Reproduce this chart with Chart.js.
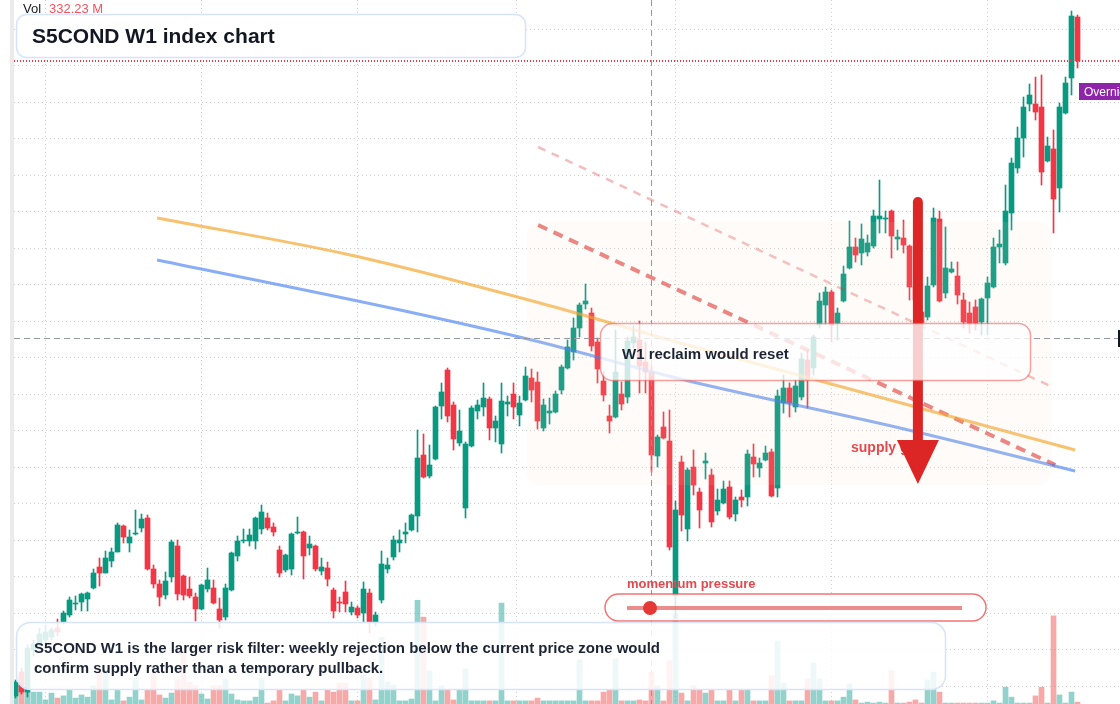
<!DOCTYPE html>
<html>
<head>
<meta charset="utf-8">
<title>S5COND W1 index chart</title>
<script src="https://cdn.jsdelivr.net/npm/chart.js@4.4.1/dist/chart.umd.min.js"></script>
<style>
  html, body { margin: 0; padding: 0; background: #ffffff; overflow: hidden; }
  #chart { display: block; width: 1120px; height: 704px; }
</style>
</head>
<body>
<canvas id="chart" width="1120" height="704"></canvas>
<script>
// weekly candles, oldest first
const opens = [
  608, 656, 616, 700, 708, 720, 726, 744, 756, 770,
  792, 796, 802, 824, 866, 854, 878, 896, 948, 914,
  932, 944, 964, 862, 832, 810, 846, 908, 848, 822,
  806, 782, 822, 824, 782, 766, 820, 888, 918, 918,
  918, 942, 964, 946, 900, 860, 862, 934, 936, 904,
  908, 858, 864, 820, 796, 816, 776, 784, 774, 814,
  756, 800, 862, 886, 914, 932, 940, 968, 1090, 1048,
  1082, 1188, 1260, 1190, 1114, 984, 1108, 1178, 1186, 1202,
  1144, 1112, 1192, 1212, 1170, 1200, 1244, 1236, 1144, 1174,
  1176, 1220, 1264, 1296, 1344, 1392, 1374, 1316, 1238, 1168,
  1166, 1212, 1206, 1314, 1320, 1276, 1256, 1088, 1146, 1118,
  808, 1076, 942, 1066, 1016, 1074, 1050, 978, 994, 1026,
  972, 1006, 1006, 1086, 1064, 1080, 1096, 1024, 1194, 1224,
  1186, 1206, 1280, 1264, 1350, 1390, 1416, 1354, 1398, 1464,
  1506, 1494, 1496, 1508, 1562, 1562, 1578, 1522, 1524, 1508,
  1426, 1376, 1366, 1430, 1562, 1414, 1456, 1448, 1400, 1374,
  1386, 1356, 1404, 1426, 1506, 1474, 1574, 1664, 1724, 1792,
  1792, 1786, 1678, 1702, 1624, 1774, 1844, 1966
];
const highs = [
  640, 664, 710, 720, 744, 750, 744, 762, 778, 806,
  808, 814, 816, 862, 884, 898, 904, 954, 950, 940,
  980, 972, 970, 870, 840, 856, 920, 920, 850, 846,
  814, 832, 864, 840, 804, 832, 896, 928, 942, 942,
  966, 990, 974, 954, 908, 892, 934, 966, 938, 928,
  910, 884, 876, 824, 806, 838, 796, 788, 836, 822,
  776, 898, 884, 928, 940, 954, 972, 1140, 1132, 1110,
  1188, 1234, 1264, 1196, 1180, 1116, 1188, 1200, 1234, 1206,
  1168, 1234, 1208, 1234, 1208, 1266, 1262, 1256, 1202, 1204,
  1218, 1270, 1320, 1364, 1394, 1432, 1384, 1324, 1256, 1190,
  1340, 1236, 1326, 1348, 1358, 1316, 1268, 1130, 1176, 1180,
  998, 1088, 1064, 1100, 1024, 1094, 1062, 1022, 1038, 1038,
  1006, 1020, 1100, 1112, 1084, 1108, 1102, 1220, 1250, 1234,
  1240, 1294, 1300, 1330, 1414, 1426, 1420, 1384, 1468, 1558,
  1524, 1552, 1530, 1580, 1640, 1578, 1580, 1540, 1560, 1510,
  1440, 1390, 1446, 1584, 1578, 1546, 1476, 1476, 1414, 1396,
  1400, 1404, 1446, 1524, 1540, 1630, 1684, 1746, 1806, 1832,
  1846, 1850, 1726, 1740, 1794, 1846, 1978, 1970
];
const lows = [
  604, 612, 606, 688, 700, 710, 720, 728, 752, 766,
  780, 778, 778, 822, 828, 854, 866, 896, 914, 896,
  930, 936, 860, 824, 788, 802, 836, 800, 800, 804,
  758, 780, 816, 792, 744, 760, 818, 878, 914, 908,
  902, 932, 940, 928, 846, 856, 850, 932, 842, 890,
  858, 850, 828, 764, 776, 776, 770, 764, 756, 734,
  748, 794, 854, 880, 896, 914, 938, 936, 1044, 1044,
  1080, 1162, 1156, 1100, 1108, 964, 1106, 1162, 1168, 1120,
  1116, 1094, 1168, 1162, 1148, 1198, 1196, 1142, 1138, 1152,
  1174, 1212, 1262, 1280, 1326, 1382, 1298, 1234, 1198, 1134,
  1164, 1180, 1194, 1304, 1214, 1214, 1056, 1066, 1122, 900,
  764, 938, 918, 1010, 944, 1042, 946, 970, 992, 962,
  958, 986, 988, 1046, 1046, 1078, 1006, 1006, 1174, 1166,
  1176, 1200, 1184, 1250, 1344, 1350, 1316, 1320, 1396, 1462,
  1476, 1470, 1488, 1504, 1534, 1534, 1484, 1500, 1494, 1400,
  1380, 1340, 1360, 1426, 1396, 1404, 1454, 1392, 1344, 1334,
  1340, 1330, 1330, 1424, 1474, 1470, 1540, 1654, 1686, 1778,
  1760, 1630, 1676, 1534, 1576, 1772, 1810, 1864
];
const closes = [
  636, 616, 704, 712, 732, 736, 740, 736, 774, 800,
  794, 812, 814, 854, 854, 884, 896, 950, 926, 926,
  934, 962, 862, 832, 806, 838, 916, 812, 810, 808,
  782, 830, 840, 794, 760, 824, 894, 918, 920, 930,
  964, 976, 944, 936, 854, 890, 932, 936, 888, 912,
  862, 866, 842, 778, 794, 792, 786, 770, 822, 756,
  770, 872, 870, 920, 920, 936, 970, 1084, 1046, 1070,
  1186, 1216, 1168, 1122, 1138, 1112, 1184, 1190, 1204, 1144,
  1158, 1198, 1196, 1186, 1194, 1248, 1220, 1158, 1190, 1178,
  1212, 1266, 1306, 1344, 1390, 1398, 1308, 1262, 1210, 1158,
  1256, 1192, 1318, 1326, 1268, 1256, 1090, 1126, 1124, 906,
  980, 970, 1060, 1030, 980, 1078, 956, 1000, 1022, 966,
  1000, 1000, 1092, 1072, 1074, 1094, 1008, 1208, 1224, 1194,
  1228, 1282, 1240, 1326, 1398, 1416, 1350, 1374, 1452, 1506,
  1490, 1522, 1514, 1568, 1568, 1564, 1528, 1526, 1510, 1426,
  1400, 1354, 1428, 1564, 1398, 1464, 1462, 1410, 1356, 1354,
  1354, 1402, 1434, 1506, 1512, 1578, 1674, 1724, 1786, 1810,
  1776, 1656, 1708, 1602, 1786, 1834, 1968, 1878
];
// volume, millions
const volumes = [
  64, 102, 38, 38, 38, 13, 35, 19, 26, 45,
  19, 29, 22, 58, 109, 109, 13, 45, 10, 22,
  83, 13, 45, 99, 29, 19, 35, 77, 166, 70,
  58, 32, 16, 58, 58, 80, 32, 13, 10, 10,
  22, 83, 3, 10, 45, 10, 32, 26, 45, 22,
  38, 10, 45, 38, 67, 67, 10, 10, 93, 83,
  13, 214, 70, 61, 10, 10, 16, 332, 278, 106,
  10, 58, 45, 13, 45, 112, 10, 10, 10, 10,
  10, 323, 10, 10, 10, 10, 10, 19, 10, 10,
  10, 10, 10, 10, 141, 10, 10, 10, 38, 45,
  144, 10, 10, 10, 13, 10, 102, 58, 10, 138,
  288, 35, 10, 58, 45, 35, 45, 10, 10, 45,
  10, 45, 45, 10, 10, 10, 90, 202, 67, 10,
  10, 10, 80, 131, 80, 10, 10, 10, 22, 64,
  13, 3, 6, 3, 6, 3, 106, 3, 3, 6,
  13, 3, 77, 102, 38, 3, 3, 3, 3, 3,
  3, 3, 3, 10, 3, 54, 22, 3, 3, 3,
  26, 54, 3, 282, 29, 3, 38, 6
];

// half-year marks (week index) and price grid levels
const weekTicks = [18, 44, 70, 97, 123, 149, 175];
const priceTicks = [1941.4, 1868.4, 1795.4, 1722.4, 1649.4, 1576.4, 1503.4, 1430.4, 1357.4, 1284.4,
  1211.4, 1138.4, 1065.4, 992.4, 919.4, 846.4, 773.4, 700.4, 627.4];

// overlay studies (week index / level)
const amberIdx = [23.6, 55.8, 87.4, 110.8, 176.6];
const amberLevel = [1564, 1490, 1394, 1314, 1100];
const blueIdx = [23.6, 64.1, 87.4, 110.8, 147.4, 176.6];
const blueLevel = [1480, 1380, 1316, 1242, 1144, 1058];
const trendIdx = [87.1, 173.3];
const trendLevel = [1550, 1070];
const channelIdx = [87.1, 172.8];
const channelLevel = [1706, 1226];

const zone = { from: 85.25, to: 172.75, top: 1556, bottom: 1030 };
const arrowAt = { idx: 150.4, from: 1596, base: 1120, tip: 1032 };
const crosshair = { idx: 106, level: 1324 };

const UP = '#089981', DOWN = '#f23645';
const weeks = closes.map((_, i) => i);
const isUp = i => closes[i] >= opens[i];

const pts = (xs, ys) => xs.map((x, i) => ({ x, y: ys[i] }));

const FONT = '"Liberation Sans", Arial, sans-serif';

const overlay = {
  id: 'overlay',
  afterDatasetsDraw(chart) {
    const { ctx, chartArea: area, scales } = chart;
    const px = v => scales.x.getPixelForValue(v);
    const py = v => scales.y.getPixelForValue(v);
    const hline = (x0, x1, y) => { ctx.beginPath(); ctx.moveTo(x0, y); ctx.lineTo(x1, y); ctx.stroke(); };
    const vline = (x, y0, y1) => { ctx.beginPath(); ctx.moveTo(x, y0); ctx.lineTo(x, y1); ctx.stroke(); };
    const box = (x, y, w, h, r, fill, stroke, lw) => {
      ctx.beginPath();
      ctx.roundRect(x, y, w, h, r);
      ctx.fillStyle = fill; ctx.fill();
      ctx.setLineDash([]);
      ctx.lineWidth = lw; ctx.strokeStyle = stroke; ctx.stroke();
    };

    ctx.save();

    // supply zone tint
    const zx0 = px(zone.from), zx1 = px(zone.to), zy0 = py(zone.top), zy1 = py(zone.bottom);
    ctx.beginPath();
    ctx.roundRect(zx0, zy0, zx1 - zx0, zy1 - zy0, 14);
    ctx.fillStyle = 'rgba(250,215,185,0.1)';
    ctx.fill();

    // last price line, dotted red
    const lastY = Math.round(py(closes[closes.length - 1]));
    ctx.fillStyle = '#f23645';
    for (let xx = area.left; xx < area.right; xx += 3) ctx.fillRect(xx, lastY - 1, 1, 2);

    // crosshair
    ctx.lineWidth = 1;
    ctx.strokeStyle = '#9598a1';
    ctx.setLineDash([6, 4]);
    hline(area.left, area.right, Math.floor(py(crosshair.level)) + 0.5);
    vline(Math.floor(px(crosshair.idx)) + 0.5, area.top, area.bottom);
    ctx.setLineDash([]);
    ctx.fillStyle = '#131722';
    ctx.fillRect(area.right - 2, py(crosshair.level) - 8, 2, 17);

    // supply label, partly under the arrow
    ctx.font = 'bold 14px ' + FONT;
    ctx.fillStyle = '#e5484d';
    ctx.textBaseline = 'alphabetic';
    ctx.fillText('supply gate', 851, 452);

    // arrow
    const ax = px(arrowAt.idx);
    ctx.strokeStyle = '#dc2626';
    ctx.lineWidth = 10;
    ctx.lineCap = 'round';
    vline(ax, py(arrowAt.from), py(arrowAt.base));
    ctx.lineCap = 'butt';
    ctx.fillStyle = '#dc2626';
    ctx.beginPath();
    ctx.moveTo(ax - 21, py(arrowAt.base));
    ctx.lineTo(ax + 21, py(arrowAt.base));
    ctx.lineTo(ax, py(arrowAt.tip));
    ctx.closePath();
    ctx.fill();

    // reclaim note
    box(600.5, 323.5, 430, 57, 12, 'rgba(255,255,255,0.78)', 'rgba(239,83,80,0.55)', 1.5);
    ctx.font = 'bold 15px ' + FONT;
    ctx.fillStyle = '#1c2434';
    ctx.fillText('W1 reclaim would reset', 622, 359);

    // momentum capsule
    ctx.font = 'bold 13px ' + FONT;
    ctx.fillStyle = '#e5484d';
    ctx.fillText('momentum pressure', 627, 588);
    box(605, 594, 381, 27, 13.5, 'rgba(255,255,255,0.82)', 'rgba(239,68,68,0.75)', 1.5);
    ctx.strokeStyle = 'rgba(226,80,80,0.65)';
    ctx.lineWidth = 4;
    hline(627, 962, 608);
    ctx.fillStyle = '#e53935';
    ctx.beginPath();
    ctx.arc(650, 608, 7, 0, Math.PI * 2);
    ctx.fill();

    // bottom commentary
    box(16.5, 622.5, 929, 67, 14, 'rgba(255,255,255,0.86)', '#d6e4fb', 1.5);
    ctx.font = 'bold 15px ' + FONT;
    ctx.fillStyle = '#1c2434';
    ctx.fillText('S5COND W1 is the larger risk filter: weekly rejection below the current price zone would', 34, 653);
    ctx.fillText('confirm supply rather than a temporary pullback.', 34, 673);

    // title
    box(16.5, 14.5, 509, 43, 10, '#ffffff', '#d6e4fb', 1.5);
    ctx.font = 'bold 21px ' + FONT;
    ctx.fillStyle = '#131722';
    ctx.fillText('S5COND W1 index chart', 32, 43);

    // volume legend
    ctx.font = '13px ' + FONT;
    ctx.fillStyle = '#131722';
    ctx.fillText('Vol', 23, 13);
    ctx.fillStyle = '#f7525f';
    ctx.fillText('332.23 M', 49, 13);

    // session tag
    ctx.fillStyle = '#8e24aa';
    ctx.fillRect(1079, 83, 45, 17);
    ctx.fillStyle = '#ffffff';
    ctx.font = '12px ' + FONT;
    ctx.fillText('Overnight', 1084, 96);

    // left pane edge
    ctx.fillStyle = '#ebebeb';
    ctx.fillRect(10, 0, 4, area.bottom);

    ctx.restore();
  }
};

new Chart(document.getElementById('chart'), {
  type: 'bar',
  data: {
    datasets: [
      {
        type: 'line', data: pts(amberIdx, amberLevel),
        borderColor: 'rgba(245,160,30,0.65)', borderWidth: 3,
        pointRadius: 0, cubicInterpolationMode: 'monotone', order: 0
      },
      {
        type: 'line', data: pts(blueIdx, blueLevel),
        borderColor: 'rgba(59,120,240,0.6)', borderWidth: 3,
        pointRadius: 0, cubicInterpolationMode: 'monotone', order: 0
      },
      {
        type: 'line', data: pts(trendIdx, trendLevel),
        borderColor: 'rgba(220,38,38,0.6)', borderWidth: 4, borderDash: [10, 7],
        pointRadius: 0, order: 0
      },
      {
        type: 'line', data: pts(channelIdx, channelLevel),
        borderColor: 'rgba(220,38,38,0.3)', borderWidth: 2.5, borderDash: [8, 7],
        pointRadius: 0, order: 0
      },
      {
        label: 'body',
        data: weeks.map(i => ({ x: i, y: [opens[i], closes[i]] })),
        backgroundColor: weeks.map(i => isUp(i) ? UP : DOWN),
        barThickness: 5, minBarLength: 1, grouped: false, order: 1
      },
      {
        label: 'wick',
        data: weeks.map(i => ({ x: i, y: [lows[i], highs[i]] })),
        backgroundColor: weeks.map(i => isUp(i) ? UP : DOWN),
        barThickness: 1, grouped: false, order: 2
      },
      {
        label: 'volume', yAxisID: 'vol',
        data: weeks.map(i => ({ x: i, y: volumes[i] })),
        backgroundColor: weeks.map(i => isUp(i) ? 'rgba(38,166,154,0.5)' : 'rgba(239,83,80,0.5)'),
        barThickness: 5, grouped: false, order: 3
      }
    ]
  },
  options: {
    responsive: false,
    animation: false,
    devicePixelRatio: 1,
    layout: { padding: { left: 14, right: 0, top: 0, bottom: 0 } },
    plugins: { legend: { display: false }, tooltip: { enabled: false } },
    scales: {
      x: {
        type: 'linear', min: -0.25, max: 184.083, offset: false,
        ticks: { display: false },
        grid: { color: '#cfcfcf', lineWidth: 1, drawTicks: false },
        border: { display: false, dash: [1, 3] },
        afterBuildTicks: s => { s.ticks = weekTicks.map(v => ({ value: v })); },
        afterFit: s => { s.height = 0; }
      },
      y: {
        position: 'right', min: 592, max: 2000,
        ticks: { display: false },
        grid: { color: '#cfcfcf', lineWidth: 1, drawTicks: false },
        border: { display: false, dash: [1, 3] },
        afterBuildTicks: s => { s.ticks = priceTicks.map(v => ({ value: v })); },
        afterFit: s => { s.width = 0; }
      },
      vol: { display: false, min: 0, max: 2252.8 }
    }
  },
  plugins: [overlay]
});
</script>
</body>
</html>
